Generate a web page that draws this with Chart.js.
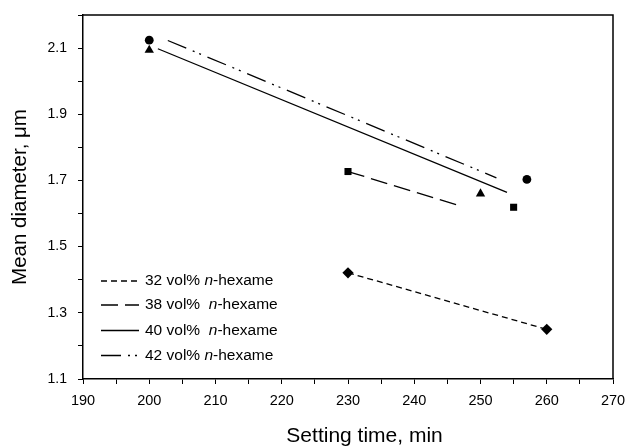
<!DOCTYPE html>
<html>
<head>
<meta charset="utf-8">
<script src="https://cdn.jsdelivr.net/npm/chart.js@4.4.1/dist/chart.umd.min.js"></script>
<style>
    html, body { margin: 0; padding: 0; background: #ffffff; }
    #wrap { width: 627px; height: 448px; }
</style>
</head>
<body>
<div id="wrap"><canvas id="sizeChart" width="627" height="448"></canvas></div>
<script>
// ============================================
// DATA
// ============================================

// Legend names for each series
const seriesLabels = ['32 vol% n-hexame', '38 vol%  n-hexame', '40 vol%  n-hexame', '42 vol% n-hexame'];

// Measured points (setting time, min / mean diameter, um)
const pointTimes32 = [230, 260];
const pointDiam32 = [1.421, 1.250];
const pointTimes38 = [230, 255];
const pointDiam38 = [1.727, 1.619];
const pointTimes40 = [200, 250];
const pointDiam40 = [2.094, 1.660];
const pointTimes42 = [200, 257];
const pointDiam42 = [2.124, 1.703];

// Trend lines drawn through the points
const lineTimes32 = [230, 260];
const lineDiam32 = [1.421, 1.250];
const lineTimes38 = [230, 246.5];
const lineDiam38 = [1.727, 1.626];
const lineTimes40 = [201.3, 254];
const lineDiam40 = [2.098, 1.664];
const lineTimes42 = [202.8, 252.4];
const lineDiam42 = [2.123, 1.708];

// Axis ranges and ticks
const xMin = 190, xMax = 270, xStep = 5;
const yMin = 1.1, yMax = 2.2, yStep = 0.1;
const xTitle = 'Setting time, min';
const yTitle = 'Mean diameter, μm';

// ============================================
// STYLES
// ============================================
const fontFamily = '"Liberation Sans", Arial, Helvetica, sans-serif';
const markerShapes = ['rectRot', 'rect', 'triangle', 'circle'];
const markerSizes = [5.6, 5, 5.4, 4.4];
const lineDashes = [[6, 4], [17, 7], [], [20, 7, 2, 5, 2, 7]];

// Build {x, y} pairs from two arrays
function toPoints(xs, ys) {
    return xs.map((x, i) => ({ x: x, y: ys[i] }));
}

const pointSets = [
    toPoints(pointTimes32, pointDiam32),
    toPoints(pointTimes38, pointDiam38),
    toPoints(pointTimes40, pointDiam40),
    toPoints(pointTimes42, pointDiam42)
];
const lineSets = [
    toPoints(lineTimes32, lineDiam32),
    toPoints(lineTimes38, lineDiam38),
    toPoints(lineTimes40, lineDiam40),
    toPoints(lineTimes42, lineDiam42)
];

const datasets = [];
// Trend lines first (no markers)
lineSets.forEach((pts, i) => {
    datasets.push({
        label: seriesLabels[i],
        data: pts,
        showLine: true,
        borderColor: '#000000',
        borderWidth: 1.3,
        borderDash: lineDashes[i],
        pointRadius: 0,
        fill: false
    });
});
// Markers on top
pointSets.forEach((pts, i) => {
    datasets.push({
        label: seriesLabels[i] + ' points',
        data: pts,
        showLine: false,
        pointStyle: markerShapes[i],
        pointRadius: markerSizes[i],
        backgroundColor: '#000000',
        borderColor: '#000000',
        borderWidth: 0
    });
});

// Draw the top and right frame lines, plus the x title (sits a bit right of centre)
const framePlugin = {
    id: 'frame',
    afterDraw(chart) {
        const { ctx, chartArea } = chart;
        ctx.save();
        ctx.strokeStyle = '#000000';
        ctx.lineWidth = 1.5;
        ctx.beginPath();
        ctx.moveTo(chartArea.left, chartArea.top);
        ctx.lineTo(chartArea.right, chartArea.top);
        ctx.lineTo(chartArea.right, chartArea.bottom);
        ctx.stroke();

        ctx.fillStyle = '#000000';
        ctx.font = '21px ' + fontFamily;
        ctx.textAlign = 'center';
        ctx.textBaseline = 'middle';
        ctx.fillText(xTitle, chart.scales.x.getPixelForValue(232.5), chart.height - 12);
        ctx.restore();
    }
};

// Legend sits inside the plot, lower-left corner
const insideLegend = {
    id: 'insideLegend',
    afterDraw(chart) {
        const { ctx, chartArea } = chart;
        const rowOffsets = [98, 74, 48.5, 23.5];
        const lineStart = chartArea.left + 18;
        const lineEnd = chartArea.left + 56;
        const textX = chartArea.left + 62;
        ctx.save();
        seriesLabels.forEach((label, i) => {
            const y = chartArea.bottom - rowOffsets[i];
            // sample line
            ctx.strokeStyle = '#000000';
            ctx.lineWidth = 1.3;
            ctx.setLineDash(lineDashes[i]);
            ctx.beginPath();
            ctx.moveTo(lineStart, y);
            ctx.lineTo(lineEnd, y);
            ctx.stroke();
            ctx.setLineDash([]);
            // text, with italic "n"
            const cut = label.lastIndexOf('n-');
            const parts = [
                { t: label.slice(0, cut), italic: false },
                { t: 'n', italic: true },
                { t: label.slice(cut + 1), italic: false }
            ];
            let x = textX;
            ctx.fillStyle = '#000000';
            ctx.textBaseline = 'middle';
            ctx.textAlign = 'left';
            parts.forEach(p => {
                ctx.font = (p.italic ? 'italic ' : '') + '15.5px ' + fontFamily;
                ctx.fillText(p.t, x, y);
                x += ctx.measureText(p.t).width;
            });
        });
        ctx.restore();
    }
};

const ctx = document.getElementById('sizeChart').getContext('2d');
const sizeChart = new Chart(ctx, {
    type: 'scatter',
    data: { datasets: datasets },
    options: {
        responsive: false,
        animation: false,
        layout: {
            padding: { top: 15, right: 14, left: 0, bottom: 0 }
        },
        plugins: {
            legend: { display: false },
            tooltip: { enabled: false }
        },
        scales: {
            x: {
                type: 'linear',
                min: xMin,
                max: xMax,
                afterFit: function(scale) {
                    scale.height = 69;
                    scale.paddingLeft = 0;
                    scale.paddingRight = 0;
                },
                border: { color: '#000000', width: 1.5 },
                grid: {
                    drawOnChartArea: false,
                    drawTicks: true,
                    tickLength: 5,
                    color: '#000000'
                },
                ticks: {
                    stepSize: xStep,
                    padding: 8,
                    color: '#000000',
                    maxRotation: 0,
                    font: { family: fontFamily, size: 14.5 },
                    callback: function(value) {
                        return value % 10 === 0 ? String(value) : '';
                    }
                },
                title: { display: false }
            },
            y: {
                type: 'linear',
                min: yMin,
                max: yMax,
                afterFit: function(scale) {
                    scale.width = 83;
                    scale.paddingTop = 0;
                    scale.paddingBottom = 0;
                },
                border: { color: '#000000', width: 1.5 },
                grid: {
                    drawOnChartArea: false,
                    drawTicks: true,
                    tickLength: 5,
                    color: '#000000'
                },
                ticks: {
                    stepSize: yStep,
                    padding: 11,
                    color: '#000000',
                    font: { family: fontFamily, size: 14 },
                    callback: function(value) {
                        const tenths = Math.round(value * 10);
                        return tenths % 2 === 1 ? value.toFixed(1) : '';
                    }
                },
                title: {
                    display: true,
                    text: yTitle,
                    color: '#000000',
                    font: { family: fontFamily, size: 20.5 },
                    padding: { top: 8, bottom: 0 }
                }
            }
        }
    },
    plugins: [framePlugin, insideLegend]
});
</script>
</body>
</html>
